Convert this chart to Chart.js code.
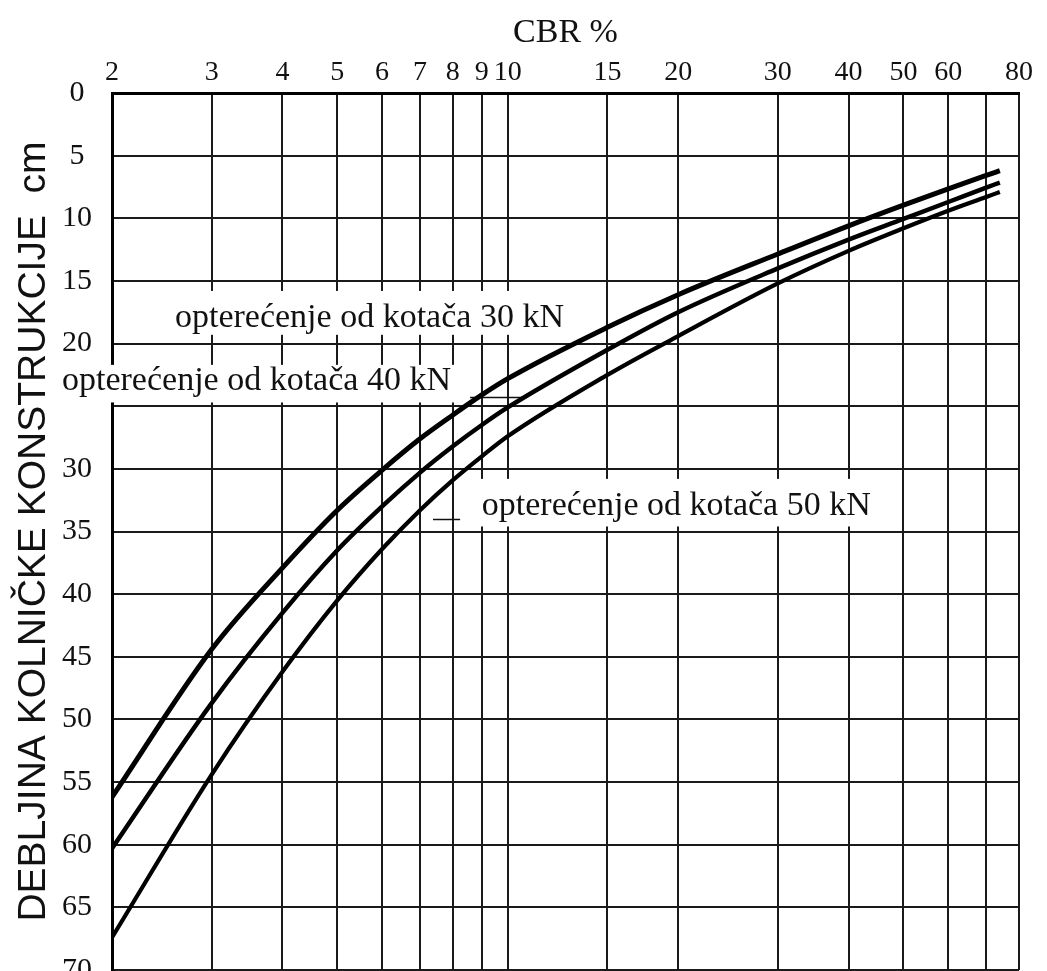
<!DOCTYPE html>
<html>
<head>
<meta charset="utf-8">
<script src="https://cdn.jsdelivr.net/npm/chart.js@4.4.1/dist/chart.umd.min.js"></script>
<style>
  html,body{margin:0;padding:0;background:#fff;overflow:hidden;}
  #c{display:block;}
</style>
</head>
<body>
<canvas id="c" width="1047" height="1008" style="width:1047px;height:1008px"></canvas>
<script>
// CBR (%) values at which the curves were read
const cbr = [2, 3, 4, 5, 6, 7, 8, 9, 10, 15, 20, 30, 40, 50, 60, 70, 74];
// pavement thickness (cm) for each wheel load
const d30 = [56.2, 44.4, 37.9, 33.3, 30.1, 27.6, 25.7, 24.1, 22.8, 18.7, 16.1, 12.85, 10.6, 8.95, 7.65, 6.58, 6.2];
const d40 = [60.3, 48.7, 41.5, 36.5, 33.0, 30.3, 28.2, 26.5, 25.1, 20.5, 17.5, 14.0, 11.7, 10.05, 8.7, 7.55, 7.15];
const d50 = [67.4, 54.4, 46.2, 40.5, 36.4, 33.3, 30.9, 29.0, 27.4, 22.5, 19.4, 15.2, 12.6, 10.8, 9.4, 8.3, 7.9];

const loads = ['opterećenje od kotača 30 kN', 'opterećenje od kotača 40 kN', 'opterećenje od kotača 50 kN'];
const xTicks = [2, 3, 4, 5, 6, 7, 8, 9, 10, 15, 20, 30, 40, 50, 60, 70, 80];
const xHidden = [70];
const yHidden = [25];

const serif = '"Liberation Serif", "Times New Roman", serif';
const sans = '"Liberation Sans", Arial, sans-serif';
const ink = '#111';

const pts = ys => cbr.map((x,i)=>({x, y: ys[i]}));

// white label boxes with text, leader lines (data coords)
const notes = [
  {text: loads[0], tx: 2.584, ty: 18.0, box: [2.53, 15.8, 14.4, 19.3]},
  {text: loads[1], tx: 1.632, ty: 23.0, box: [1.567, 21.7, 8.24, 24.7], lead: [8.58, 10.82, 24.3]},
  {text: loads[2], tx: 9.0, ty: 33.0, box: [8.65, 30.8, 45.8, 34.6], lead: [7.38, 8.24, 34.0]}
];

const labelPlugin = {
  id: 'labels',
  beforeDatasetsDraw(chart){
    const {ctx} = chart, sx = chart.scales.x, sy = chart.scales.y;
    ctx.save();
    notes.forEach(n=>{
      const x0 = sx.getPixelForValue(n.box[0]), y0 = sy.getPixelForValue(n.box[1]);
      const x1 = sx.getPixelForValue(n.box[2]), y1 = sy.getPixelForValue(n.box[3]);
      ctx.fillStyle = '#fff';
      ctx.fillRect(x0, y0, x1-x0, y1-y0);
      ctx.fillStyle = ink;
      ctx.font = '34px ' + serif;
      ctx.textAlign = 'left';
      ctx.textBaseline = 'middle';
      ctx.fillText(n.text, sx.getPixelForValue(n.tx), sy.getPixelForValue(n.ty));
      if (n.lead){
        const yl = Math.round(sy.getPixelForValue(n.lead[2])) + 0.5;
        ctx.strokeStyle = ink;
        ctx.lineWidth = 1.5;
        ctx.beginPath();
        ctx.moveTo(sx.getPixelForValue(n.lead[0]), yl);
        ctx.lineTo(sx.getPixelForValue(n.lead[1]), yl);
        ctx.stroke();
      }
    });
    ctx.restore();
  }
};

const line = (label, ys, w)=>({
  label, data: pts(ys), borderColor: '#000', borderWidth: w,
  pointRadius: 0, fill: false, cubicInterpolationMode: 'monotone'
});

new Chart(document.getElementById('c'), {
  type: 'line',
  data: {
    datasets: [
      line(loads[0], d30, 5),
      line(loads[1], d40, 4.5),
      line(loads[2], d50, 4.2)
    ]
  },
  options: {
    responsive: false,
    animation: false,
    devicePixelRatio: 1,
    layout: {padding: {top: 0, left: 0, right: 28, bottom: 4}},
    plugins: {legend: {display: false}, tooltip: {enabled: false}},
    scales: {
      x: {
        type: 'logarithmic', position: 'top', min: 2, max: 80,
        afterBuildTicks: s=>{ s.ticks = xTicks.map(v=>({value: v})); },
        afterFit: s=>{ s.height = 93; },
        ticks: {
          autoSkip: false, maxRotation: 0, padding: 4, color: ink,
          font: {family: serif, size: 28},
          callback: v=> xHidden.includes(v) ? '' : String(v)
        },
        grid: {color: '#1a1a1a', lineWidth: 2, drawTicks: false},
        border: {color: '#000', width: 3},
        title: {display: true, text: 'CBR %', color: ink, font: {family: serif, size: 34}, padding: {top: 13, bottom: 0}}
      },
      y: {
        type: 'linear', reverse: true, min: 0, max: 70,
        afterFit: s=>{ s.width = 112; },
        ticks: {
          stepSize: 5, padding: 20, crossAlign: 'center', color: ink,
          font: {family: serif, size: 30},
          callback: v=> yHidden.includes(v) ? '' : String(v)
        },
        grid: {color: '#1a1a1a', lineWidth: 2, drawTicks: false},
        border: {color: '#000', width: 3},
        title: {display: true, text: 'DEBLJINA KOLNIČKE KONSTRUKCIJE  cm', color: ink, font: {family: sans, size: 39}, padding: {top: 11, bottom: 0}}
      }
    }
  },
  plugins: [labelPlugin]
});
</script>
</body>
</html>
